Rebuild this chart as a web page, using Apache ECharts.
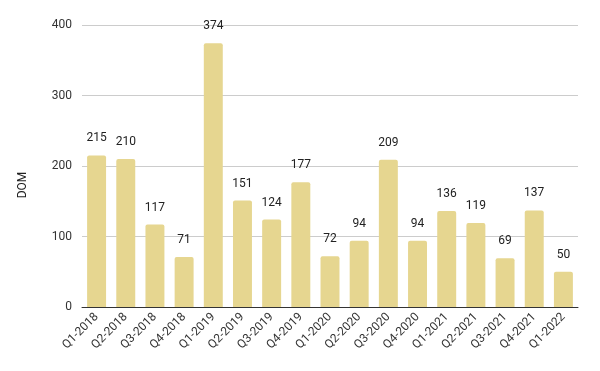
<!DOCTYPE html>
<html>
<head>
<meta charset="utf-8">
<script src="https://cdn.jsdelivr.net/npm/echarts@6/dist/echarts.min.js"></script>
<style>
  html, body { margin: 0; padding: 0; background: #fff; }
  #chart { width: 600px; height: 371px; }
</style>
</head>
<body>
<div id="chart"></div>
<script>
// 各季度数据
var quarters = ["Q1-2018", "Q2-2018", "Q3-2018", "Q4-2018", "Q1-2019", "Q2-2019", "Q3-2019", "Q4-2019",
  "Q1-2020", "Q2-2020", "Q3-2020", "Q4-2020", "Q1-2021", "Q2-2021", "Q3-2021", "Q4-2021", "Q1-2022"];
var domValues = [215, 210, 117, 71, 374, 151, 124, 177, 72, 94, 209, 94, 136, 119, 69, 137, 50];
var yTicks = [0, 100, 200, 300, 400];

var myChart = echarts.init(document.getElementById("chart"));
var option = {
  animation: false,
  grid: { left: 82, right: 22, top: 25, bottom: 64, containLabel: false },
  xAxis: {
    type: "category",
    data: quarters,
    axisTick: { show: false },
    axisLine: { lineStyle: { color: "#333", width: 1 } },
    axisLabel: {
      rotate: 45,
      interval: 0,
      fontFamily: "Roboto",
      fontSize: 12,
      color: "#333",
      margin: 8
    }
  },
  yAxis: {
    type: "value",
    min: yTicks[0],
    max: yTicks[yTicks.length - 1],
    interval: 100,
    name: "DOM",
    nameLocation: "middle",
    nameGap: 53,
    nameTextStyle: {
      fontFamily: "Roboto",
      fontSize: 12,
      color: "#222",
      padding: [0, 38, 0, 0]
    },
    axisLine: { show: false },
    axisTick: { show: false },
    splitLine: { lineStyle: { color: "#ccc" } },
    axisLabel: {
      fontFamily: "Roboto",
      fontSize: 12,
      color: "#333",
      margin: 10
    }
  },
  series: [
    {
      type: "bar",
      data: domValues,
      barCategoryGap: "35%",
      itemStyle: {
        color: "#e6d690",
        borderRadius: [2, 2, 0, 0]
      },
      label: {
        show: true,
        position: "top",
        distance: 11,
        fontFamily: "Roboto",
        fontSize: 12,
        color: "#222"
      }
    }
  ]
};
myChart.setOption(option);
</script>
</body>
</html>
